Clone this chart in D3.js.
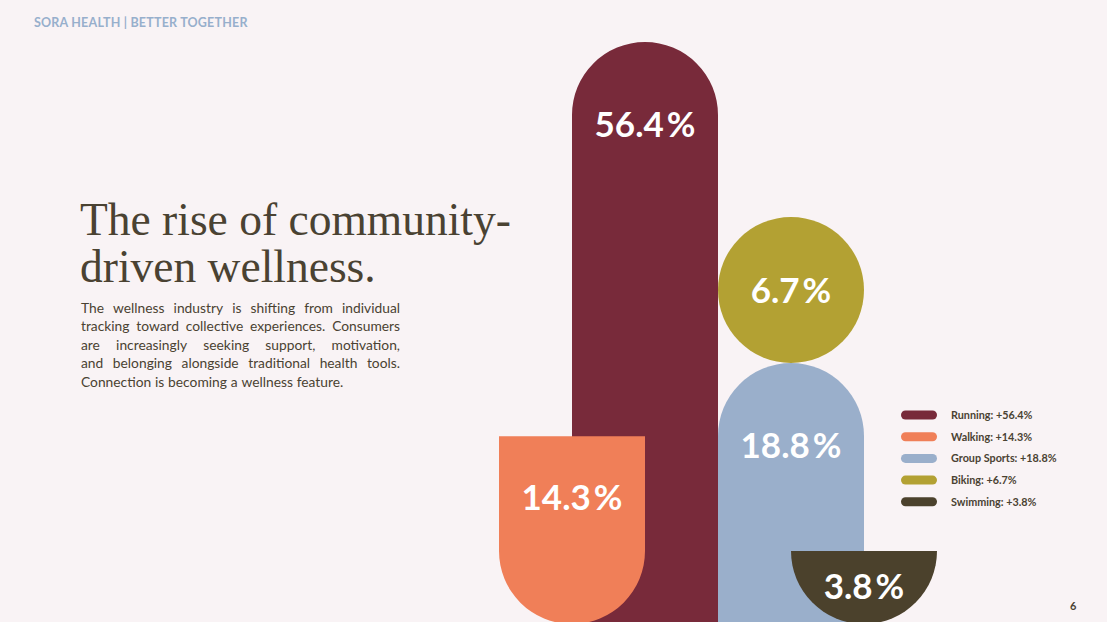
<!DOCTYPE html>
<html>
<head>
<meta charset="utf-8">
<script src="https://cdn.jsdelivr.net/npm/d3@7"></script>
<style>
  html, body { margin: 0; padding: 0; background: #f9f3f5; }
  svg { display: block; }
</style>
</head>
<body>
<script>
// values
const categories = ["Running", "Walking", "Group Sports", "Biking", "Swimming"]
const values = [56.4, 14.3, 18.8, 6.7, 3.8]
const colors = ["#782a3a", "#f07f58", "#9aafcb", "#b3a133", "#4b412c"]

// how each category is drawn (shape kind, half-column slot, label offset)
const shapes = ["capTop", "cupBottom", "capTop", "circle", "bowl"]
const slots = [1, 0, 3, 3, 4]
const labelDy = [95, 74, 95, 13, 48]

const titleLines = ["The rise of community-", "driven wellness."]
const bodyLines = [
  "The wellness industry is shifting from individual",
  "tracking toward collective experiences. Consumers",
  "are increasingly seeking support, motivation,",
  "and belonging alongside traditional health tools.",
  "Connection is becoming a wellness feature."
]

const width = 1107
const height = 622
const ink = "#4a4232"
const sans = "Lato, 'Open Sans', sans-serif"

const svg = d3.select("body").append("svg")
  .attr("width", width)
  .attr("height", height)

svg.append("rect")
  .attr("width", width).attr("height", height)
  .attr("fill", "#f9f3f5")

// header
svg.append("text")
  .attr("x", 34).attr("y", 27)
  .attr("font-family", sans)
  .attr("font-weight", 700)
  .attr("font-size", 12.5)
  .attr("letter-spacing", 0.2)
  .attr("fill", "#97afcc")
  .text("SORA HEALTH | BETTER TOGETHER")

// title
svg.append("text")
  .attr("font-family", "'Liberation Serif', serif")
  .attr("font-size", 45.5)
  .attr("fill", ink)
  .selectAll("tspan").data(titleLines)
  .enter().append("tspan")
    .attr("x", 80)
    .attr("y", (d, i) => 235 + i * 47)
    .text(d => d)

// body paragraph, justified by spreading words
const bodyLeft = 81, bodyRight = 400
bodyLines.forEach((line, li) => {
  const y = 313 + li * 18.4
  const words = line.split(" ")
  const g = svg.append("text")
    .attr("font-family", sans)
    .attr("font-size", 13.8)
    .attr("fill", ink)
  const spans = words.map(w => g.append("tspan").attr("y", y).text(w))
  const widths = spans.map(s => s.node().getComputedTextLength())
  const total = d3.sum(widths)
  const last = li === bodyLines.length - 1
  const gap = last ? 3.8 : (bodyRight - bodyLeft - total) / (words.length - 1)
  let x = bodyLeft
  spans.forEach((s, i) => { s.attr("x", x); x += widths[i] + gap })
})

// scales
const baseline = 624
const x = d3.scaleLinear().domain([0, 6]).range([499, 937])
const r = (x(2) - x(0)) / 2
const h = d3.scaleLinear().domain([10, 18.8, 60]).range([118, 261, 612.7])

const data = categories.map((name, i) => ({
  name, value: values[i], color: colors[i],
  shape: shapes[i], slot: slots[i], dy: labelDy[i]
}))

// work out top y for each shape
const groupTop = baseline - h(values[2])
data.forEach(d => {
  const x0 = x(d.slot)
  d.cx = x0 + r
  if (d.shape === "capTop" || d.shape === "cupBottom") d.top = baseline - h(d.value)
  else if (d.shape === "bowl") d.top = baseline - r
  else d.top = groupTop - 2 * r
})

function shapePath(d) {
  const p = d3.path()
  const x0 = d.cx - r, x1 = d.cx + r
  if (d.shape === "capTop") {
    p.moveTo(x0, baseline)
    p.lineTo(x0, d.top + r)
    p.arc(d.cx, d.top + r, r, Math.PI, 2 * Math.PI)
    p.lineTo(x1, baseline)
    p.closePath()
  } else if (d.shape === "cupBottom" || d.shape === "bowl") {
    p.moveTo(x0, d.top)
    p.lineTo(x1, d.top)
    p.lineTo(x1, baseline - r)
    p.arc(d.cx, baseline - r, r, 0, Math.PI)
    p.closePath()
  } else {
    p.moveTo(x1, d.top + r)
    p.arc(d.cx, d.top + r, r, 0, 2 * Math.PI)
    p.closePath()
  }
  return p.toString()
}

const marks = svg.append("g")
marks.selectAll("path").data(data)
  .enter().append("path")
    .attr("d", shapePath)
    .attr("fill", d => d.color)

const labels = svg.append("g")
  .attr("font-family", sans)
  .attr("font-weight", 700)
  .attr("font-size", 35)
  .attr("fill", "#fff")
  .attr("text-anchor", "middle")
labels.selectAll("text").data(data)
  .enter().append("text")
    .attr("x", d => d.cx)
    .attr("y", d => d.shape === "circle" ? d.top + r + d.dy : d.top + d.dy)
    .each(function(d) {
      const t = d3.select(this)
      t.append("tspan").text(d.value.toFixed(1))
      t.append("tspan").attr("dx", 3).text("%")
    })

// legend
const legend = svg.append("g")
  .selectAll("g").data(data)
  .enter().append("g")
    .attr("transform", (d, i) => `translate(901, ${415 + i * 21.7})`)
legend.append("rect")
  .attr("x", 0).attr("y", -4.5)
  .attr("width", 36).attr("height", 9)
  .attr("rx", 4.5)
  .attr("fill", d => d.color)
legend.append("text")
  .attr("x", 50).attr("y", 4)
  .attr("font-family", sans)
  .attr("font-weight", 700)
  .attr("font-size", 10.8)
  .attr("fill", ink)
  .text(d => `${d.name}: +${d.value}%`)

// page number
svg.append("text")
  .attr("x", 1070).attr("y", 610)
  .attr("font-family", sans)
  .attr("font-weight", 700)
  .attr("font-size", 11)
  .attr("fill", ink)
  .text("6")
</script>
</body>
</html>
